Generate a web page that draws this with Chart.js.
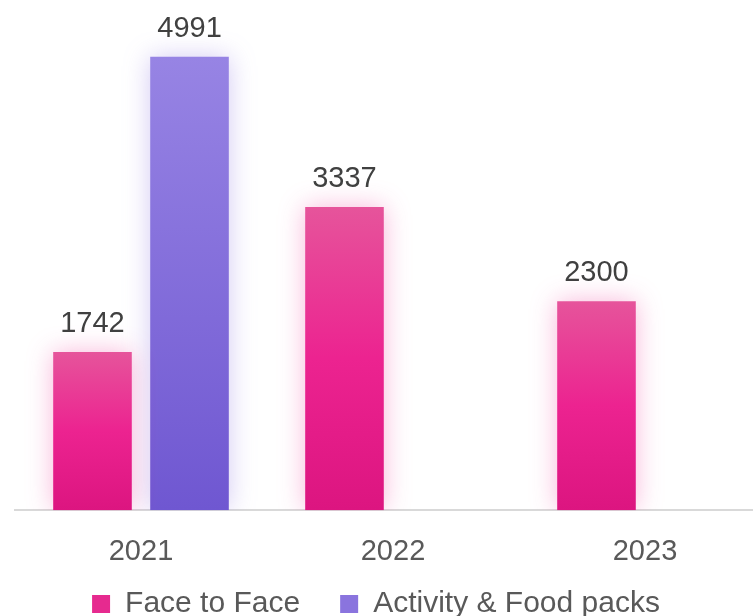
<!DOCTYPE html>
<html>
<head>
<meta charset="utf-8">
<script src="https://cdn.jsdelivr.net/npm/chart.js@4.4.0/dist/chart.umd.min.js"></script>
<style>
  html, body { margin: 0; padding: 0; background: #fff; overflow: hidden; }
  /* the reference is cut off on the right and bottom, so the canvas runs past the window */
  #wrap { width: 771px; height: 641px; }
</style>
</head>
<body>
<div id="wrap"><canvas id="barChart"></canvas></div>
<script>
const years = ["2021", "2022", "2023"];
const faceToFace = [1742, 3337, 2300];
const activityFood = [4991, null, null];
const seriesNames = ["Face to Face", "Activity & Food packs"];
const yMax = 5000;

const pinkStops = [[0, "#e6549b"], [0.5, "#ec2390"], [1, "#dc1580"]];
const purpleStops = [[0, "#9784e4"], [1, "#6f57d1"]];
const legendColors = ["#e62a8f", "#8a74de"];
const glowColors = ["rgba(236, 38, 143, 0.33)", "rgba(120, 92, 220, 0.33)"];

Chart.defaults.font.family = '"Liberation Sans", Arial, sans-serif';

function barGradient(stops, solid) {
  return (context) => {
    const chart = context.chart;
    const area = chart.chartArea;
    if (!area || context.type !== "data" || context.raw == null) return solid;
    const top = chart.scales.y.getPixelForValue(context.raw);
    const g = chart.ctx.createLinearGradient(0, top, 0, area.bottom);
    stops.forEach(([pos, col]) => g.addColorStop(pos, col));
    return g;
  };
}

// soft glow round the bars
const glow = {
  id: "glow",
  beforeDatasetDraw(chart, args) {
    const ctx = chart.ctx;
    ctx.save();
    ctx.shadowColor = glowColors[args.index];
    ctx.shadowBlur = 24;
  },
  afterDatasetDraw(chart) {
    chart.ctx.restore();
  }
};

// numbers above the bars
const valueLabels = {
  id: "valueLabels",
  afterDatasetsDraw(chart) {
    const ctx = chart.ctx;
    ctx.save();
    ctx.font = '29px "Liberation Sans", Arial, sans-serif';
    ctx.fillStyle = "#404040";
    ctx.textAlign = "center";
    ctx.textBaseline = "alphabetic";
    chart.data.datasets.forEach((ds, i) => {
      chart.getDatasetMeta(i).data.forEach((bar, j) => {
        const v = ds.data[j];
        if (v == null) return;
        ctx.fillText(String(v), bar.x, bar.y - 20);
      });
    });
    ctx.restore();
  }
};

// put the legend where it sits in the picture
const legendPlace = {
  id: "legendPlace",
  afterLayout(chart) {
    const lg = chart.legend;
    lg.top = 616 - 67;
    lg.left -= 17;
    lg.right -= 17;
  }
};

const ctx = document.getElementById("barChart").getContext("2d");
const chart = new Chart(ctx, {
  type: "bar",
  data: {
    labels: years,
    datasets: [
      {
        label: seriesNames[0],
        data: faceToFace,
        backgroundColor: barGradient(pinkStops, legendColors[0]),
        categoryPercentage: 0.77,
        barPercentage: 0.81,
        clip: { top: 40, left: 40, right: 40, bottom: 0 }
      },
      {
        label: seriesNames[1],
        data: activityFood,
        backgroundColor: barGradient(purpleStops, legendColors[1]),
        categoryPercentage: 0.77,
        barPercentage: 0.81,
        clip: { top: 40, left: 40, right: 40, bottom: 0 }
      }
    ]
  },
  options: {
    responsive: true,
    maintainAspectRatio: false,
    animation: false,
    layout: { padding: { top: 56, left: 15, right: 0, bottom: 0 } },
    scales: {
      x: {
        grid: { display: false, drawTicks: false },
        border: { color: "#d9d9d9", width: 2 },
        ticks: { color: "#595959", font: { size: 29 }, padding: 24 }
      },
      y: { display: false, min: 0, max: yMax }
    },
    plugins: {
      tooltip: { enabled: false },
      legend: {
        position: "bottom",
        maxHeight: 48,
        labels: {
          boxWidth: 18,
          boxHeight: 18,
          padding: 40,
          color: "#595959",
          font: { size: 30 },
          generateLabels: (chart) => chart.data.datasets.map((ds, i) => ({
            text: ds.label,
            fillStyle: legendColors[i],
            strokeStyle: legendColors[i],
            lineWidth: 0,
            fontColor: "#595959",
            hidden: false,
            datasetIndex: i
          }))
        }
      }
    }
  },
  plugins: [glow, valueLabels, legendPlace]
});
</script>
</body>
</html>
